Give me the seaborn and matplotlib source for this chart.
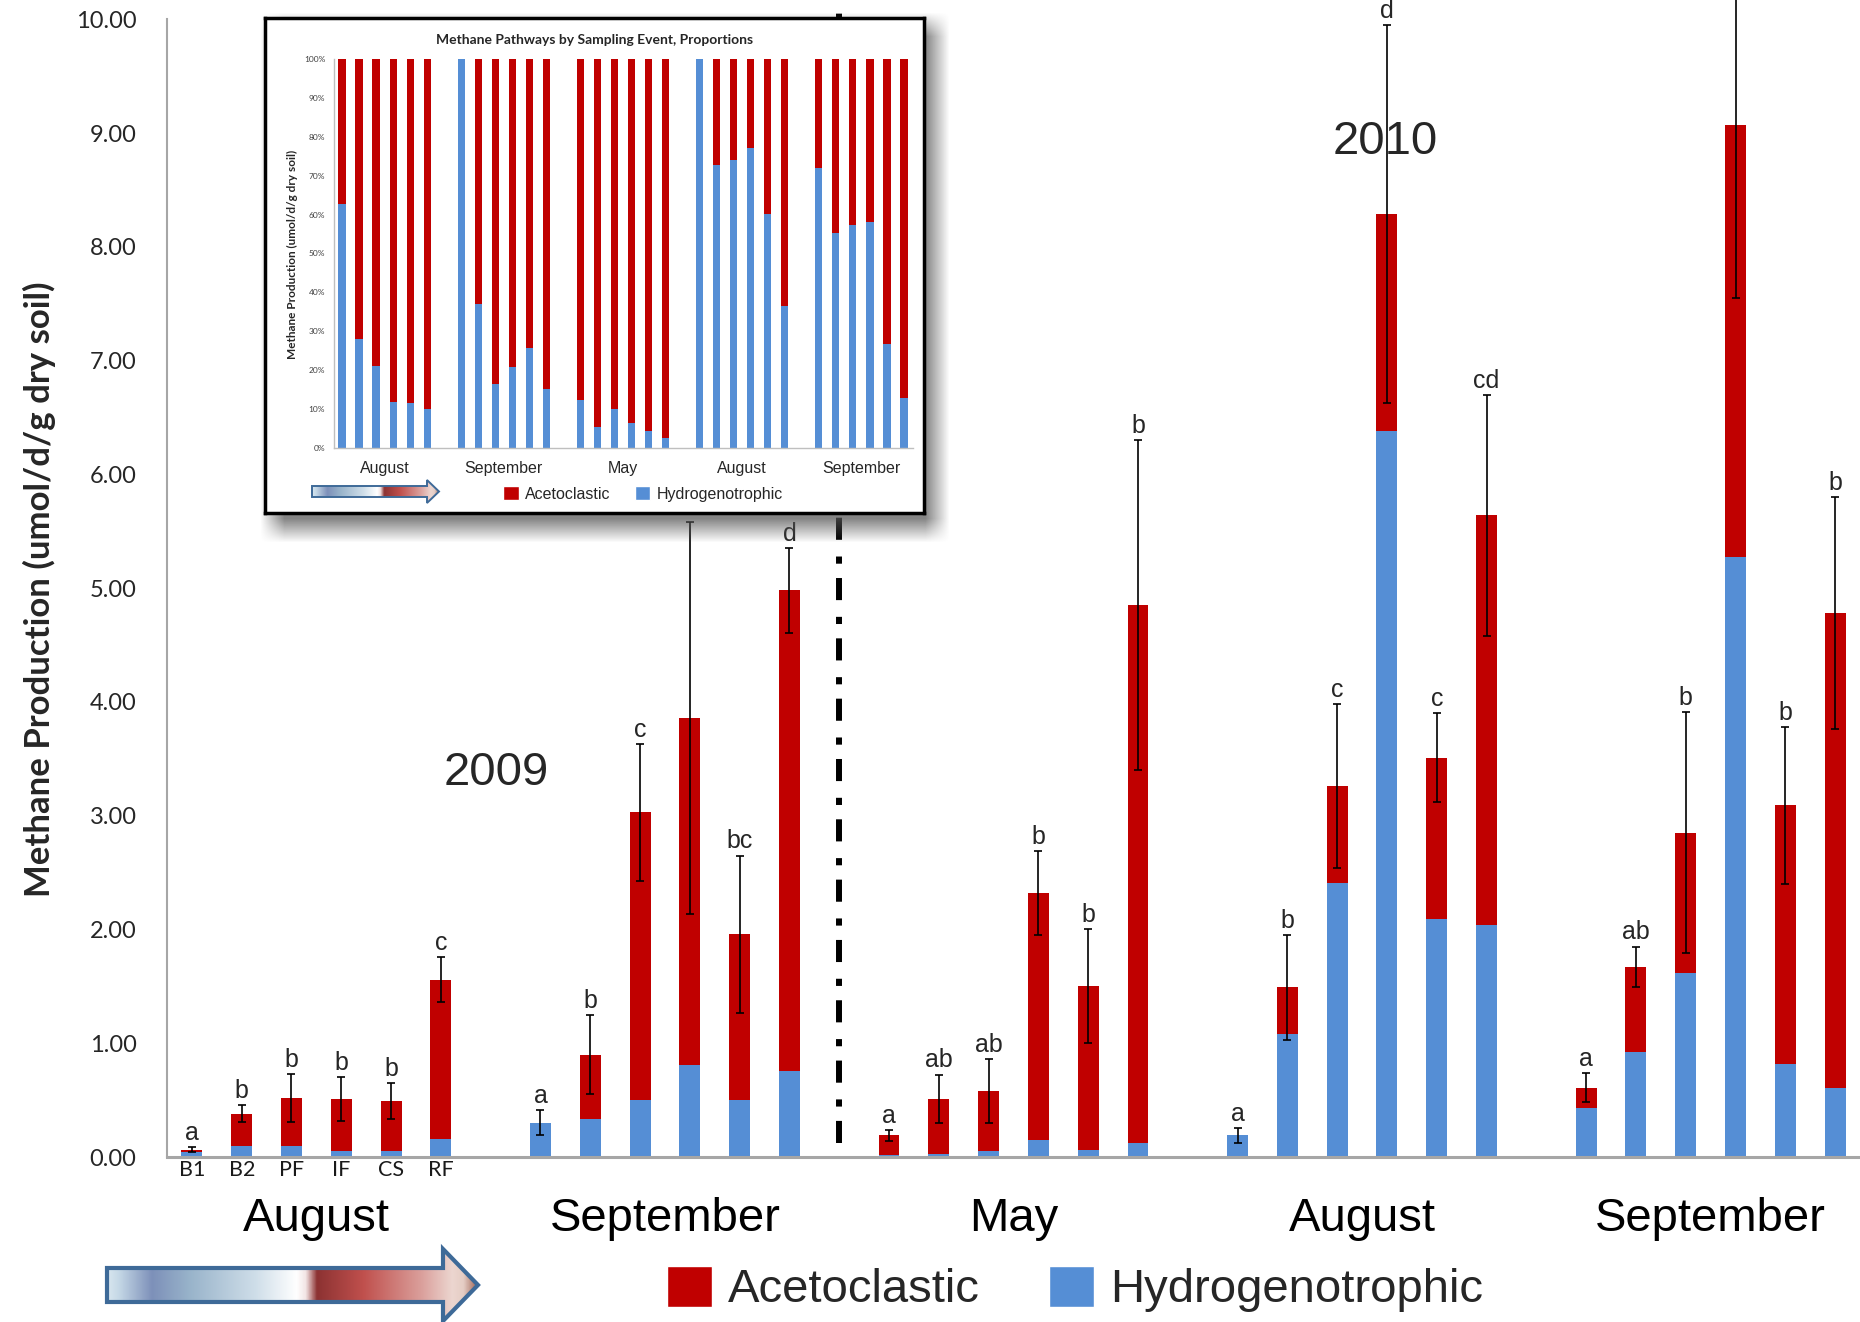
import numpy as np
import pandas as pd
import matplotlib
matplotlib.use("Agg")
import matplotlib.pyplot as plt
import seaborn as sns
from matplotlib.patches import Polygon, Patch
from matplotlib.colors import LinearSegmentedColormap
from matplotlib import transforms as mtrans

# ---------------- data ----------------
sites = ["B1", "B2", "PF", "IF", "CS", "RF"]
events = ["August", "September", "May", "August", "September"]
year_labels = ["2009", "2010"]
legend_labels = ["Acetoclastic", "Hydrogenotrophic"]
ylabel_text = "Methane Production (umol/d/g dry soil)"
inset_title = "Methane Pathways by Sampling Event, Proportions"
ytick_values = [0, 1, 2, 3, 4, 5, 6, 7, 8, 9, 10]
inset_ytick_values = [0, 10, 20, 30, 40, 50, 60, 70, 80, 90, 100]

# Hydrogenotrophic production (blue, bottom of stack)
hydro_aug09 = [0.04, 0.10, 0.10, 0.055, 0.05, 0.155]
hydro_sep09 = [0.30, 0.33, 0.50, 0.81, 0.50, 0.76]
hydro_may10 = [0.02, 0.03, 0.055, 0.15, 0.065, 0.12]
hydro_aug10 = [0.19, 1.08, 2.41, 6.38, 2.09, 2.04]
hydro_sep10 = [0.43, 0.92, 1.62, 5.27, 0.82, 0.61]

# Acetoclastic production (red, top of stack)
aceto_aug09 = [0.025, 0.28, 0.42, 0.455, 0.44, 1.405]
aceto_sep09 = [0.0, 0.57, 2.53, 3.05, 1.46, 4.22]
aceto_may10 = [0.17, 0.48, 0.525, 2.17, 1.435, 4.73]
aceto_aug10 = [0.0, 0.41, 0.85, 1.91, 1.42, 3.60]
aceto_sep10 = [0.18, 0.75, 1.23, 3.80, 2.27, 4.17]

# Error bar half-lengths on the totals
err_aug09 = [0.025, 0.075, 0.21, 0.19, 0.16, 0.20]
err_sep09 = [0.11, 0.35, 0.60, 1.72, 0.69, 0.37]
err_may10 = [0.05, 0.215, 0.28, 0.37, 0.50, 1.45]
err_aug10 = [0.067, 0.46, 0.72, 1.66, 0.39, 1.06]
err_sep10 = [0.13, 0.18, 1.06, 1.52, 0.69, 1.02]

# Significance letters ("" = hidden in the reference)
letters_aug09 = ["a", "b", "b", "b", "b", "c"]
letters_sep09 = ["a", "b", "c", "", "bc", "d"]
letters_may10 = ["a", "ab", "ab", "b", "b", "b"]
letters_aug10 = ["a", "b", "c", "d", "c", "cd"]
letters_sep10 = ["a", "ab", "b", "", "b", "b"]

# Inset: hydrogenotrophic share (%)
pct_hydro_aug09 = [62.7, 28.1, 21.1, 11.9, 11.5, 10.0]
pct_hydro_sep09 = [100.0, 36.9, 16.5, 20.9, 25.6, 15.2]
pct_hydro_may10 = [12.3, 5.4, 10.0, 6.5, 4.4, 2.5]
pct_hydro_aug10 = [100.0, 72.8, 74.0, 77.1, 60.2, 36.4]
pct_hydro_sep10 = [71.9, 55.2, 57.4, 58.0, 26.7, 12.8]

hydro_all = [hydro_aug09, hydro_sep09, hydro_may10, hydro_aug10, hydro_sep10]
aceto_all = [aceto_aug09, aceto_sep09, aceto_may10, aceto_aug10, aceto_sep10]
err_all = [err_aug09, err_sep09, err_may10, err_aug10, err_sep10]
letters_all = [letters_aug09, letters_sep09, letters_may10, letters_aug10, letters_sep10]
pct_all = [pct_hydro_aug09, pct_hydro_sep09, pct_hydro_may10, pct_hydro_aug10, pct_hydro_sep10]

SLOTS = len(sites) + 1  # one empty slot between sampling events
rows = []
for g in range(len(events)):
    for i, s in enumerate(sites):
        rows.append(dict(event=g, site=s, pos=g * SLOTS + i,
                         hydro=hydro_all[g][i], aceto=aceto_all[g][i],
                         err=err_all[g][i], letter=letters_all[g][i],
                         pct_hydro=pct_all[g][i]))
df = pd.DataFrame(rows)
df["total"] = df["hydro"] + df["aceto"]
df["pct_total"] = df["pct_hydro"] + (100 - df["pct_hydro"])

# ---------------- style ----------------
sns.set_style("white")
plt.rcParams["font.family"] = ["Liberation Sans", "DejaVu Sans"]
RED = "#C00000"
BLUE = "#558ED5"
GREY = "#a6a6a6"
EDGE = "#3e6a98"
CALIBRI = ["Lato", "DejaVu Sans"]

W, H = 1860, 1322
fig = plt.figure(figsize=(W / 100, H / 100), dpi=100)
fig.patch.set_facecolor("white")


def fx(px):
    return px / W


def fy(py):
    return 1 - py / H


# ---------------- main axes ----------------
ax = fig.add_axes([fx(167), fy(1157), 1 - fx(167), (1157 - 19.3) / H])
sns.barplot(data=df, x="pos", y="total", native_scale=True, color=RED,
            saturation=1, width=0.42, errorbar=None, linewidth=0, ax=ax)
sns.barplot(data=df, x="pos", y="hydro", native_scale=True, color=BLUE,
            saturation=1, width=0.42, errorbar=None, linewidth=0, ax=ax)
ax.set_xlim(-0.5, len(events) * SLOTS - 1.5)
ax.set_ylim(0, 10)

eb = ax.errorbar(df["pos"], df["total"], yerr=df["err"], fmt="none",
                 ecolor="black", elinewidth=1.2, capsize=3, capthick=1.2,
                 zorder=4)
for art in list(eb.lines[1]) + list(eb.lines[2]):
    art.set_clip_on(False)

for _, r in df.iterrows():
    if r["letter"]:
        ax.annotate(r["letter"], (r["pos"], r["total"] + r["err"]),
                    xytext=(0, 1.5), textcoords="offset points",
                    ha="center", va="bottom", fontsize=18,
                    annotation_clip=False, zorder=5)

# separator between years
ax.plot([SLOTS * 2 - 1, SLOTS * 2 - 1], [0.12, 10.4], color="black",
        lw=4.3, linestyle=(0, (3.7, 2.4, 1.2, 2.8)), clip_on=False, zorder=3)

ax.set_xticks(np.arange(-0.5, len(events) * SLOTS - 0.5, 1.0))
ax.set_xticklabels([])
ax.tick_params(axis="x", length=6, width=1.3, color=GREY, direction="out")
ax.set_yticks(ytick_values)
ax.set_yticklabels([f"{v:.2f}" for v in ytick_values], fontfamily=CALIBRI,
                   fontsize=17, color="#262626")
ax.tick_params(axis="y", length=5, width=1.3, color=GREY, direction="out", pad=17)
for sp in ["top", "right"]:
    ax.spines[sp].set_visible(False)
ax.spines["left"].set_color(GREY)
ax.spines["left"].set_linewidth(1.5)
ax.spines["bottom"].set_color(GREY)
ax.spines["bottom"].set_linewidth(2.2)
ax.set_xlabel("")
ax.set_ylabel(ylabel_text, fontfamily=CALIBRI, fontweight="bold", fontsize=25)
ax.yaxis.set_label_coords(fx(56), fy(589), transform=fig.transFigure)

tr = mtrans.blended_transform_factory(ax.transData, fig.transFigure)
for i, s in enumerate(sites):
    ax.text(i, fy(1176), s, transform=tr, ha="center", va="baseline",
            fontfamily=CALIBRI, fontsize=15.5, color="#1a1a1a")
for g, ev in enumerate(events):
    ax.text(g * SLOTS + (len(sites) - 1) / 2, fy(1231), ev, transform=tr,
            ha="center", va="baseline", fontsize=34, color="black")

ax.text(6.12, 3.27, year_labels[0], ha="center", va="baseline", fontsize=34)
ax.text(23.96, 8.82, year_labels[1], ha="center", va="baseline", fontsize=34)

fig.legend(handles=[Patch(facecolor=RED), Patch(facecolor=BLUE)],
           labels=legend_labels, ncol=2, loc="center left",
           bbox_to_anchor=(fx(667), fy(1289)), frameon=False,
           fontsize=34, handlelength=0.96, handleheight=0.96,
           handletextpad=0.34, columnspacing=1.45, borderpad=0,
           borderaxespad=0)

# ---------------- inset shadow ----------------
sh = fig.add_axes([0, 0, 1, 1])
sh.set_axis_off()
xs = np.arange(240, 980)
ys = np.arange(0, 570)


def ramp(t, w):
    return np.clip(0.5 + t / (2 * w), 0, 1)


ax_prof = ramp(xs - 272, 12) * ramp(936 - xs, 12)
ay_prof = ramp(ys - 24, 12) * ramp(530 - ys, 12)
img = np.zeros((len(ys), len(xs), 4))
img[..., :3] = 0.33
img[..., 3] = 0.72 * np.outer(ay_prof, ax_prof)
sh.imshow(img, extent=(240, 980, 570, 0), aspect="auto", interpolation="bilinear")
sh.set_xlim(0, W)
sh.set_ylim(H, 0)

# ---------------- inset box ----------------
box = fig.add_axes([fx(265), fy(513), (924 - 265) / W, (513 - 18) / H])
box.set_facecolor("white")
box.set_xticks([])
box.set_yticks([])
for sp in box.spines.values():
    sp.set_visible(True)
    sp.set_linewidth(2.5)
    sp.set_color("black")

# ---------------- inset chart ----------------
ins = fig.add_axes([fx(333.5), fy(448), (912.5 - 333.5) / W, (448 - 59) / H])
ins.patch.set_alpha(0)
sns.barplot(data=df, x="pos", y="pct_total", native_scale=True, color=RED,
            saturation=1, width=0.42, errorbar=None, linewidth=0, ax=ins)
sns.barplot(data=df, x="pos", y="pct_hydro", native_scale=True, color=BLUE,
            saturation=1, width=0.42, errorbar=None, linewidth=0, ax=ins)
ins.set_xlim(-0.5, len(events) * SLOTS - 1.5)
ins.set_ylim(0, 100)
ins.set_xticks(np.arange(-0.5, len(events) * SLOTS - 1.0, 1.0))
ins.set_xticklabels([])
ins.set_yticks(inset_ytick_values)
ins.set_yticklabels([f"{v}%" for v in inset_ytick_values], fontfamily=CALIBRI,
                    fontsize=6, color="#404040")
ins.tick_params(axis="both", length=3, width=0.8, color="#bfbfbf", pad=3)
for sp in ["top", "right"]:
    ins.spines[sp].set_visible(False)
for sp in ["left", "bottom"]:
    ins.spines[sp].set_color("#bfbfbf")
    ins.spines[sp].set_linewidth(1.0)
ins.set_xlabel("")
ins.set_ylabel(ylabel_text, fontfamily=CALIBRI, fontweight="bold", fontsize=8.5)
ins.yaxis.set_label_coords(fx(298), fy(254), transform=fig.transFigure)
ins.text(fx(595), fy(44), inset_title, transform=fig.transFigure, ha="center",
         va="baseline", fontfamily=CALIBRI, fontweight="bold", fontsize=10)
tri = mtrans.blended_transform_factory(ins.transData, fig.transFigure)
for g, ev in enumerate(events):
    ins.text(g * SLOTS + (len(sites) - 1) / 2, fy(473), ev, transform=tri,
             ha="center", va="baseline", fontsize=11.5)

fig.legend(handles=[Patch(facecolor=RED), Patch(facecolor=BLUE)],
           labels=legend_labels, ncol=2, loc="center left",
           bbox_to_anchor=(fx(503), fy(494)), frameon=False,
           fontsize=11.5, handlelength=1.0, handleheight=1.0,
           handletextpad=0.38, columnspacing=1.5, borderpad=0,
           borderaxespad=0)

# ---------------- gradient arrows ----------------
arrow_cmap = LinearSegmentedColormap.from_list("arrow", [
    (0.0, "#d8e6ef"), (0.03, "#c5d8e6"), (0.12, "#7d90b9"), (0.22, "#98b3ca"),
    (0.40, "#cfdee9"), (0.51, "#ffffff"), (0.535, "#f2e4e4"), (0.565, "#8c3232"),
    (0.69, "#c0504d"), (0.85, "#dba19d"), (0.93, "#ecd6d0"), (0.96, "#e5cdc5"),
    (1.0, "#9c5f50")])

top = fig.add_axes([0, 0, 1, 1])
top.set_axis_off()
top.patch.set_alpha(0)


def draw_arrow(axo, x0, xh, xt, yc, hb, hh, lw):
    pts = [(x0, yc - hb), (xh, yc - hb), (xh, yc - hh), (xt, yc),
           (xh, yc + hh), (xh, yc + hb), (x0, yc + hb)]
    grad = np.linspace(0, 1, 512)[None, :]
    im = axo.imshow(grad, cmap=arrow_cmap, extent=(x0, xt, yc + hh, yc - hh),
                    aspect="auto", interpolation="bilinear", zorder=2)
    clip = Polygon(pts, closed=True, facecolor="none", edgecolor="none")
    axo.add_patch(clip)
    im.set_clip_path(clip)
    axo.add_patch(Polygon(pts, closed=True, facecolor="none", edgecolor=EDGE,
                          linewidth=lw, joinstyle="miter", zorder=3))


draw_arrow(top, 107, 443, 478, 1285, 17, 36, 3.0)
draw_arrow(top, 312, 427, 439, 491.5, 5.5, 11.5, 1.4)
top.set_xlim(0, W)
top.set_ylim(H, 0)

fig.savefig("out.png", dpi=100)
